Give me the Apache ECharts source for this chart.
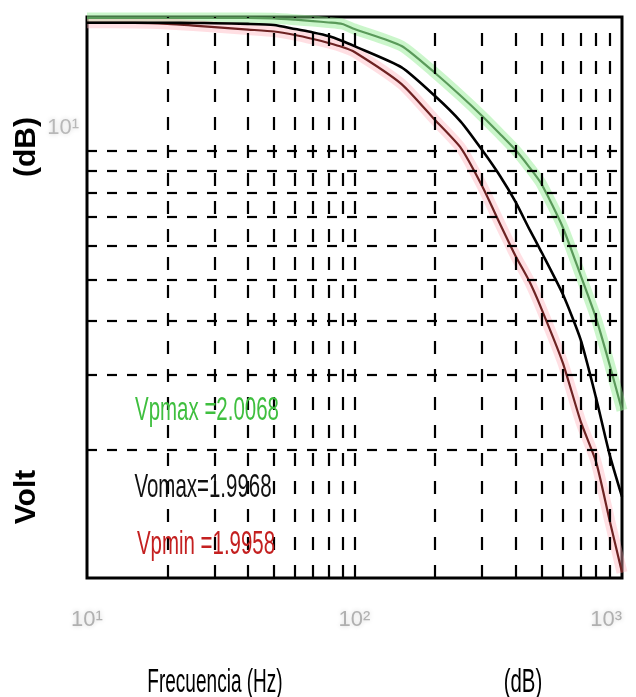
<!DOCTYPE html>
<html><head><meta charset="utf-8">
<script src="https://cdn.jsdelivr.net/npm/echarts@6/dist/echarts.min.js"></script>
<style>html,body{margin:0;padding:0;background:#fff}#c{width:636px;height:697px}</style>
</head><body><div id="c"></div>
<script>
// frequency samples (Hz)
const freq   = [10, 15, 20, 25, 30, 40, 50, 60, 70, 80, 90, 100, 150, 200, 250, 300, 350, 400, 450, 500, 600, 700, 800, 900, 1000];
// black curve (Vomax)
const vBlack = [19.97, 19.97, 19.97, 19.95, 19.92, 19.85, 19.73, 19.3, 18.95, 18.59, 18.1, 17.6, 15.7, 13.45, 11.7, 10.05, 8.74, 7.6, 6.57, 5.8, 4.63, 3.62, 2.64, 1.94, 1.55];
// red curve (Vpmin)
const vRed   = [19.96, 19.95, 19.84, 19.67, 19.51, 19.25, 19.05, 18.69, 18.29, 17.9, 17.52, 17.06, 14.35, 11.82, 10.16, 8.28, 6.75, 5.68, 4.96, 4.27, 3.2, 2.33, 1.87, 1.36, 1.03];
// green curve (Vpmax)
const vGreen = [20.5, 20.5, 20.5, 20.5, 20.5, 20.5, 20.45, 20.3, 20.15, 20.0, 19.84, 19.31, 17.62, 15.23, 13.45, 12.08, 10.96, 10.05, 9.17, 8.37, 6.64, 5.12, 4.06, 3.15, 2.47];

const xGridLines = [20, 30, 40, 50, 60, 70, 80, 90, 100, 200, 300, 400, 500, 600, 700, 800, 900];
const yGridLines = [2, 3, 4, 5, 6, 7, 8, 9, 10];
const xTickValues = [10, 100, 1000];
const xTickLabels = ['10\u00b9', '10\u00b2', '10\u00b3'];
const yTickValues = [10];
const yTickLabels = ['10\u00b9'];
const annotations = ['Vpmax =2.0068', 'Vomax=1.9968', 'Vpmin =1.9958'];
const xTitle = 'Frecuencia (Hz)';
const xTitle2 = '(dB)';
const yTitleA = '(dB)';
const yTitleB = 'Volt';

const pair = arr => freq.map((f, i) => [f, arr[i]]);
const findLabel = (vals, labs, v) => { const i = vals.findIndex(t => Math.abs(t - v) / t < 1e-6); return i >= 0 ? labs[i] : ''; };

const chart = echarts.init(document.getElementById('c'), null, {renderer: 'canvas'});
const font = 'Liberation Sans, Arial, sans-serif';
chart.setOption({
  animation: false,
  backgroundColor: '#fff',
  grid: {left: 87, right: 14, top: 17, bottom: 119, show: true, borderColor: '#000', borderWidth: 3, backgroundColor: 'transparent', outerBoundsMode: 'none', containLabel: false},
  xAxis: {
    type: 'log', logBase: 10, min: 10, max: 1000,
    axisLine: {show: false}, axisTick: {show: false}, splitLine: {show: false},
    axisLabel: {formatter: v => findLabel(xTickValues, xTickLabels, v), color: '#b0b0b0', fontSize: 22, fontFamily: font, margin: 31,
      textShadowColor: '#d0d0d0', textShadowBlur: 5, showMinLabel: true, showMaxLabel: true, alignMaxLabel: 'right'}
  },
  yAxis: {
    type: 'log', logBase: 10, min: 1, max: 20.6,
    axisLine: {show: false}, axisTick: {show: false}, splitLine: {show: false},
    axisLabel: {formatter: v => findLabel(yTickValues, yTickLabels, v), color: '#b8b8b8', fontSize: 22, fontFamily: font, margin: 8,
      verticalAlign: 'bottom', padding: [0, 0, 12, 0], textShadowColor: '#d0d0d0', textShadowBlur: 5, showMinLabel: false, showMaxLabel: false}
  },
  series: [
    {type: 'line', data: [], silent: true, z: 1,
      markLine: {silent: true, symbol: 'none', label: {show: false}, animation: false,
        data: [
          ...xGridLines.map(v => ({xAxis: v, lineStyle: {color: '#000', width: 2.2, type: [13, 15]}})),
          ...yGridLines.map(v => ({yAxis: v, lineStyle: {color: '#000', width: 2.2, type: [10, 10]}}))
        ]}},
    {type: 'line', data: pair(vGreen), showSymbol: false, smooth: 0.2, z: 2, silent: true,
      lineStyle: {color: 'rgba(140,235,140,0.45)', width: 11}},
    {type: 'line', data: pair(vRed), showSymbol: false, smooth: 0.2, z: 2, silent: true,
      lineStyle: {color: 'rgba(255,175,185,0.4)', width: 11}},
    {name: 'Vpmax', type: 'line', data: pair(vGreen), showSymbol: false, smooth: 0.2, z: 3,
      lineStyle: {color: '#5a9a5a', width: 2.2}},
    {name: 'Vpmin', type: 'line', data: pair(vRed), showSymbol: false, smooth: 0.2, z: 3,
      lineStyle: {color: '#6e2222', width: 2.2}},
    {name: 'Vomax', type: 'line', data: pair(vBlack), showSymbol: false, smooth: 0.2, z: 4,
      lineStyle: {color: '#000', width: 2.6}}
  ],
  graphic: [
    {type: 'text', x: 207, y: 411, scaleX: 0.62, z: 10, style: {text: annotations[0], fill: '#3fbf3f', fontSize: 33, fontFamily: font, align: 'center', verticalAlign: 'middle', shadowColor: 'rgba(120,230,120,0.8)', shadowBlur: 10}},
    {type: 'text', x: 203, y: 488, scaleX: 0.62, z: 10, style: {text: annotations[1], fill: '#111', fontSize: 33, fontFamily: font, align: 'center', verticalAlign: 'middle'}},
    {type: 'text', x: 206, y: 545, scaleX: 0.62, z: 10, style: {text: annotations[2], fill: '#c42020', fontSize: 33, fontFamily: font, align: 'center', verticalAlign: 'middle', shadowColor: 'rgba(255,150,160,0.8)', shadowBlur: 10}},
    {type: 'text', x: 215, y: 683, scaleX: 0.56, style: {text: xTitle, fill: '#000', fontSize: 34, fontFamily: font, align: 'center', verticalAlign: 'middle'}},
    {type: 'text', x: 523, y: 683, scaleX: 0.6, style: {text: xTitle2, fill: '#000', fontSize: 34, fontFamily: font, align: 'center', verticalAlign: 'middle'}},
    {type: 'text', x: 27, y: 147, rotation: Math.PI / 2, style: {text: yTitleA, fill: '#000', fontSize: 30, fontWeight: 'bold', fontFamily: font, align: 'center', verticalAlign: 'middle'}},
    {type: 'text', x: 27, y: 497, rotation: Math.PI / 2, style: {text: yTitleB, fill: '#000', fontSize: 30, fontWeight: 'bold', fontFamily: font, align: 'center', verticalAlign: 'middle'}}
  ]
});
</script></body></html>
